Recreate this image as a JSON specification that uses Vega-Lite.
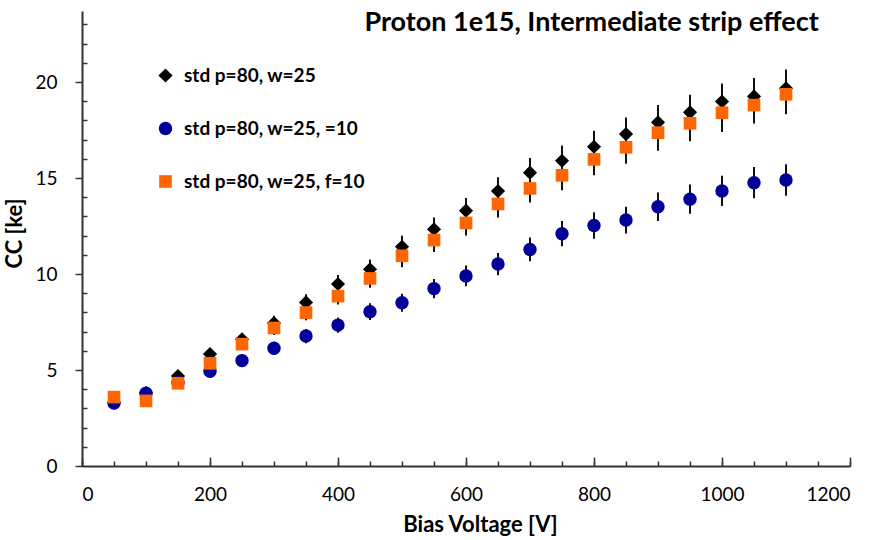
{
  "$schema": "https://vega.github.io/schema/vega-lite/v6.json",
  "width": 768,
  "height": 455,
  "autosize": {"type": "none"},
  "padding": {"left": 82, "top": 11, "right": 39, "bottom": 74},
  "background": "white",
  "config": {"view": {"stroke": null}},
  "title": {"text": "Proton 1e15, Intermediate strip effect", "anchor": "end", "offset": -26, "dx": -32, "font": "Lato", "fontWeight": "bold", "fontSize": 27, "color": "#000"},
  "data": {"values": [
    {"V": 50, "s": "std p=80, w=25", "cc": 3.28, "err": 0.16},
    {"V": 100, "s": "std p=80, w=25", "cc": 3.8, "err": 0.19},
    {"V": 150, "s": "std p=80, w=25", "cc": 4.69, "err": 0.23},
    {"V": 200, "s": "std p=80, w=25", "cc": 5.83, "err": 0.29},
    {"V": 250, "s": "std p=80, w=25", "cc": 6.6, "err": 0.33},
    {"V": 300, "s": "std p=80, w=25", "cc": 7.45, "err": 0.37},
    {"V": 350, "s": "std p=80, w=25", "cc": 8.52, "err": 0.43},
    {"V": 400, "s": "std p=80, w=25", "cc": 9.48, "err": 0.47},
    {"V": 450, "s": "std p=80, w=25", "cc": 10.25, "err": 0.51},
    {"V": 500, "s": "std p=80, w=25", "cc": 11.42, "err": 0.57},
    {"V": 550, "s": "std p=80, w=25", "cc": 12.33, "err": 0.62},
    {"V": 600, "s": "std p=80, w=25", "cc": 13.3, "err": 0.66},
    {"V": 650, "s": "std p=80, w=25", "cc": 14.32, "err": 0.72},
    {"V": 700, "s": "std p=80, w=25", "cc": 15.28, "err": 0.76},
    {"V": 750, "s": "std p=80, w=25", "cc": 15.9, "err": 0.8},
    {"V": 800, "s": "std p=80, w=25", "cc": 16.63, "err": 0.83},
    {"V": 850, "s": "std p=80, w=25", "cc": 17.29, "err": 0.86},
    {"V": 900, "s": "std p=80, w=25", "cc": 17.9, "err": 0.9},
    {"V": 950, "s": "std p=80, w=25", "cc": 18.42, "err": 0.92},
    {"V": 1000, "s": "std p=80, w=25", "cc": 18.98, "err": 0.95},
    {"V": 1050, "s": "std p=80, w=25", "cc": 19.25, "err": 0.96},
    {"V": 1100, "s": "std p=80, w=25", "cc": 19.67, "err": 0.98},
    {"V": 50, "s": "std p=80, w=25,  =10", "cc": 3.28, "err": 0.18},
    {"V": 100, "s": "std p=80, w=25,  =10", "cc": 3.79, "err": 0.21},
    {"V": 150, "s": "std p=80, w=25,  =10", "cc": 4.35, "err": 0.24},
    {"V": 200, "s": "std p=80, w=25,  =10", "cc": 4.93, "err": 0.27},
    {"V": 250, "s": "std p=80, w=25,  =10", "cc": 5.49, "err": 0.3},
    {"V": 300, "s": "std p=80, w=25,  =10", "cc": 6.13, "err": 0.34},
    {"V": 350, "s": "std p=80, w=25,  =10", "cc": 6.77, "err": 0.37},
    {"V": 400, "s": "std p=80, w=25,  =10", "cc": 7.34, "err": 0.4},
    {"V": 450, "s": "std p=80, w=25,  =10", "cc": 8.04, "err": 0.44},
    {"V": 500, "s": "std p=80, w=25,  =10", "cc": 8.5, "err": 0.47},
    {"V": 550, "s": "std p=80, w=25,  =10", "cc": 9.24, "err": 0.5},
    {"V": 600, "s": "std p=80, w=25,  =10", "cc": 9.9, "err": 0.54},
    {"V": 650, "s": "std p=80, w=25,  =10", "cc": 10.52, "err": 0.58},
    {"V": 700, "s": "std p=80, w=25,  =10", "cc": 11.28, "err": 0.62},
    {"V": 750, "s": "std p=80, w=25,  =10", "cc": 12.1, "err": 0.66},
    {"V": 800, "s": "std p=80, w=25,  =10", "cc": 12.53, "err": 0.69},
    {"V": 850, "s": "std p=80, w=25,  =10", "cc": 12.81, "err": 0.7},
    {"V": 900, "s": "std p=80, w=25,  =10", "cc": 13.5, "err": 0.74},
    {"V": 950, "s": "std p=80, w=25,  =10", "cc": 13.9, "err": 0.76},
    {"V": 1000, "s": "std p=80, w=25,  =10", "cc": 14.33, "err": 0.79},
    {"V": 1050, "s": "std p=80, w=25,  =10", "cc": 14.76, "err": 0.81},
    {"V": 1100, "s": "std p=80, w=25,  =10", "cc": 14.9, "err": 0.82},
    {"V": 50, "s": "std p=80, w=25, f=10", "cc": 3.59, "err": 0.18},
    {"V": 100, "s": "std p=80, w=25, f=10", "cc": 3.39, "err": 0.17},
    {"V": 150, "s": "std p=80, w=25, f=10", "cc": 4.31, "err": 0.22},
    {"V": 200, "s": "std p=80, w=25, f=10", "cc": 5.35, "err": 0.27},
    {"V": 250, "s": "std p=80, w=25, f=10", "cc": 6.35, "err": 0.32},
    {"V": 300, "s": "std p=80, w=25, f=10", "cc": 7.19, "err": 0.36},
    {"V": 350, "s": "std p=80, w=25, f=10", "cc": 7.99, "err": 0.4},
    {"V": 400, "s": "std p=80, w=25, f=10", "cc": 8.85, "err": 0.44},
    {"V": 450, "s": "std p=80, w=25, f=10", "cc": 9.77, "err": 0.49},
    {"V": 500, "s": "std p=80, w=25, f=10", "cc": 10.95, "err": 0.6},
    {"V": 550, "s": "std p=80, w=25, f=10", "cc": 11.77, "err": 0.62},
    {"V": 600, "s": "std p=80, w=25, f=10", "cc": 12.66, "err": 0.66},
    {"V": 650, "s": "std p=80, w=25, f=10", "cc": 13.65, "err": 0.7},
    {"V": 700, "s": "std p=80, w=25, f=10", "cc": 14.46, "err": 0.74},
    {"V": 750, "s": "std p=80, w=25, f=10", "cc": 15.14, "err": 0.78},
    {"V": 800, "s": "std p=80, w=25, f=10", "cc": 15.97, "err": 0.82},
    {"V": 850, "s": "std p=80, w=25, f=10", "cc": 16.6, "err": 0.86},
    {"V": 900, "s": "std p=80, w=25, f=10", "cc": 17.36, "err": 0.94},
    {"V": 950, "s": "std p=80, w=25, f=10", "cc": 17.85, "err": 0.94},
    {"V": 1000, "s": "std p=80, w=25, f=10", "cc": 18.4, "err": 1.0},
    {"V": 1050, "s": "std p=80, w=25, f=10", "cc": 18.8, "err": 0.96},
    {"V": 1100, "s": "std p=80, w=25, f=10", "cc": 19.36, "err": 1.04}
  ]},
  "layer": [
    {
      "mark": {"type": "errorbar", "ticks": false, "color": "#111111", "thickness": 2},
      "encoding": {
        "x": {"field": "V", "type": "quantitative", "scale": {"domain": [0, 1200], "nice": false},
          "axis": {"orient": "bottom", "values": [0,50,100,150,200,250,300,350,400,450,500,550,600,650,700,750,800,850,900,950,1000,1050,1100,1150,1200], "labels": false, "title": null, "tickSize": -5, "tickColor": "#333333", "tickWidth": 1.5, "domain": false, "grid": false}},
        "y": {"field": "cc", "type": "quantitative", "scale": {"domain": [0, 23.7], "nice": false},
          "axis": {"orient": "left", "values": [1,2,3,4,6,7,8,9,11,12,13,14,16,17,18,19,21,22,23], "labels": false, "title": null, "tickSize": -5, "tickColor": "#333333", "tickWidth": 1.5, "domain": false, "grid": false}},
        "yError": {"field": "err"}
      }
    },
    {
      "mark": {"type": "point", "filled": true, "opacity": 1, "strokeWidth": 0},
      "encoding": {
        "x": {"field": "V", "type": "quantitative",
          "axis": {"orient": "bottom", "values": [0,200,400,600,800,1000,1200], "format": "d", "title": "Bias Voltage [V]", "tickSize": -9, "tickColor": "#333333", "tickWidth": 1.5, "domainColor": "#333333", "domainWidth": 2, "grid": false, "labelFont": "Lato", "labelFontSize": 19, "labelColor": "#000", "labelPadding": 28, "titleFont": "Lato", "titleFontSize": 22, "titleFontWeight": "bold", "titleColor": "#000", "titlePadding": 10, "titleX": 398}},
        "y": {"field": "cc", "type": "quantitative",
          "axis": {"orient": "left", "values": [0,5,10,15,20], "title": "CC [ke]", "tickSize": 7, "tickColor": "#333333", "tickWidth": 1.5, "domainColor": "#333333", "domainWidth": 2, "grid": false, "labelFont": "Lato", "labelFontSize": 19, "labelColor": "#000", "labelPadding": 18, "titleFont": "Lato", "titleFontSize": 22, "titleFontWeight": "bold", "titleColor": "#000", "titlePadding": 8, "titleY": 222}},
        "color": {"field": "s", "type": "nominal", "sort": null,
          "scale": {"domain": ["std p=80, w=25", "std p=80, w=25,  =10", "std p=80, w=25, f=10"], "range": ["#000000", "#000099", "#FF6600"]},
          "legend": {"orient": "none", "legendX": 74, "legendY": 55, "title": null, "rowPadding": 33, "labelFont": "Lato", "labelFontSize": 19, "labelFontWeight": "bold", "labelColor": "#000", "labelOffset": 9, "labelLimit": 0, "symbolSize": 150, "symbolStrokeWidth": 0}},
        "shape": {"field": "s", "type": "nominal", "sort": null,
          "scale": {"domain": ["std p=80, w=25", "std p=80, w=25,  =10", "std p=80, w=25, f=10"], "range": ["diamond", "circle", "square"]}},
        "size": {"field": "s", "type": "nominal", "sort": null,
          "scale": {"domain": ["std p=80, w=25", "std p=80, w=25,  =10", "std p=80, w=25, f=10"], "range": [200, 160, 150]}}
      }
    }
  ],
  "resolve": {"axis": {"x": "independent", "y": "independent"}}
}
